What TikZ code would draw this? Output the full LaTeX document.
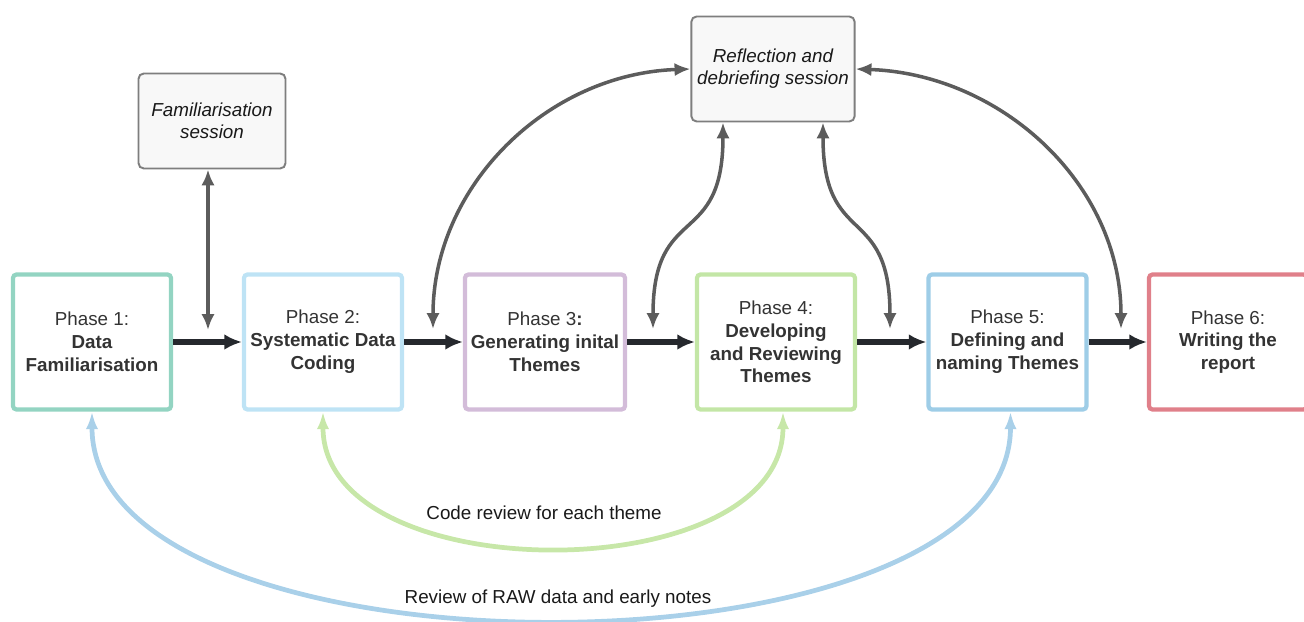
\documentclass[tikz,border=0pt]{standalone}
\usepackage{fontspec}
\setmainfont{Liberation Sans}
\usepackage{xcolor}
\usepackage{tikz}
\usetikzlibrary{arrows.meta}
\usetikzlibrary{positioning}

\definecolor{phaseone}{HTML}{93D4C2}
\definecolor{phasetwo}{HTML}{BEE3F5}
\definecolor{phasethree}{HTML}{D3BCD9}
\definecolor{phasefour}{HTML}{C3E6A6}
\definecolor{phasefive}{HTML}{9ECDE7}
\definecolor{phasesix}{HTML}{E0808A}
\definecolor{codegreen}{HTML}{C7E7A8}
\definecolor{rawblue}{HTML}{A9D0E9}
\definecolor{flowdark}{HTML}{25282D}
\definecolor{loopgray}{HTML}{5C5C5C}
\definecolor{boxgray}{HTML}{7E7E7E}
\definecolor{boxfill}{HTML}{F8F8F8}
\definecolor{phasetext}{HTML}{333333}

\begin{document}
\begin{tikzpicture}[
  phase/.style={rectangle, rounded corners=2pt, line width=2.4pt, minimum width=3.16cm, minimum height=2.7cm, align=center, text=phasetext, font=\fontsize{10.7}{13}\selectfont},
  session/.style={rectangle, rounded corners=3pt, draw=boxgray, line width=1.1pt, fill=boxfill, align=center, text=black!90, font=\fontsize{10.7}{12.5}\selectfont\itshape},
  flow/.style={-{Latex[length=10pt,width=9pt]}, line width=3.3pt, draw=flowdark},
  loop/.style={{Latex[length=9pt,width=7.5pt]}-{Latex[length=9pt,width=7.5pt]}, line width=2pt, draw=loopgray},
  review/.style={{Latex[length=10pt,width=7pt]}-{Latex[length=10pt,width=7pt]}, line width=2.7pt},
  note/.style={text=black!90, font=\fontsize{10.7}{13}\selectfont}
  ]
\useasboundingbox (0,0) rectangle (26.08,12.44);
\clip (0,0) rectangle (26.08,12.44);

\node [phase, draw=phaseone] (p1) at (1.84, 5.6) {Phase 1:\\\textbf{Data}\\\textbf{Familiarisation}};
\node [phase, draw=phasetwo] (p2) at (6.46, 5.6) {Phase 2:\\\textbf{Systematic Data}\\\textbf{Coding}};
\node [phase, draw=phasethree] (p3) at (10.9, 5.6) {Phase 3\textbf{:}\\\textbf{Generating inital}\\\textbf{Themes}};
\node [phase, draw=phasefour] (p4) at (15.52, 5.6) {Phase 4:\\\textbf{Developing}\\\textbf{and Reviewing}\\\textbf{Themes}};
\node [phase, draw=phasefive] (p5) at (20.15, 5.6) {Phase 5:\\\textbf{Defining and}\\\textbf{naming Themes}};
\node [phase, draw=phasesix] (p6) at (24.56, 5.6) {Phase 6:\\\textbf{Writing the}\\\textbf{report}};

\node [session, minimum width=2.94cm, minimum height=1.9cm] (fam) at (4.24, 10.02) {Familiarisation\\session};
\node [session, minimum width=3.18cm, minimum height=2.1cm] (refl) at (15.46, 11.06) {Reflection and\\debriefing session};

\coordinate (f1) at (4.16, 5.84);
\coordinate (r1) at (8.66, 5.86);
\coordinate (r2) at (13.06, 5.86);
\coordinate (r3) at (17.8, 5.86);
\coordinate (r4) at (22.42, 5.86);

\draw [flow] (p1) to (p2);
\draw [flow] (p2) to (p3);
\draw [flow] (p3) to (p4);
\draw [flow] (p4) to (p5);
\draw [flow] (p5) to (p6);

\draw [loop] (fam.south -| f1) to (f1);
\draw [loop] (refl.west) to [out=182, in=90] (r1);
\draw [loop] ([xshift=-1cm]refl.south) to [out=-90, in=90, looseness=1.5] (r2);
\draw [loop] ([xshift=1cm]refl.south) to [out=-90, in=90, looseness=1.5] (r3);
\draw [loop] (refl.east) to [out=-2, in=90] (r4);

\draw [review, draw=codegreen] (p2.south) to [out=-90, in=-90] ([xshift=.14cm]p4.south);
\draw [review, draw=rawblue] (p1.south) to [out=-90, in=-90, looseness=0.77] ([xshift=.06cm]p5.south);

\node [note] (codelbl) at (10.88, 2.18) {Code review for each theme};
\node [note] (rawlbl) at (11.16, 0.46) {Review of RAW data and early notes};
\end{tikzpicture}
\end{document}
